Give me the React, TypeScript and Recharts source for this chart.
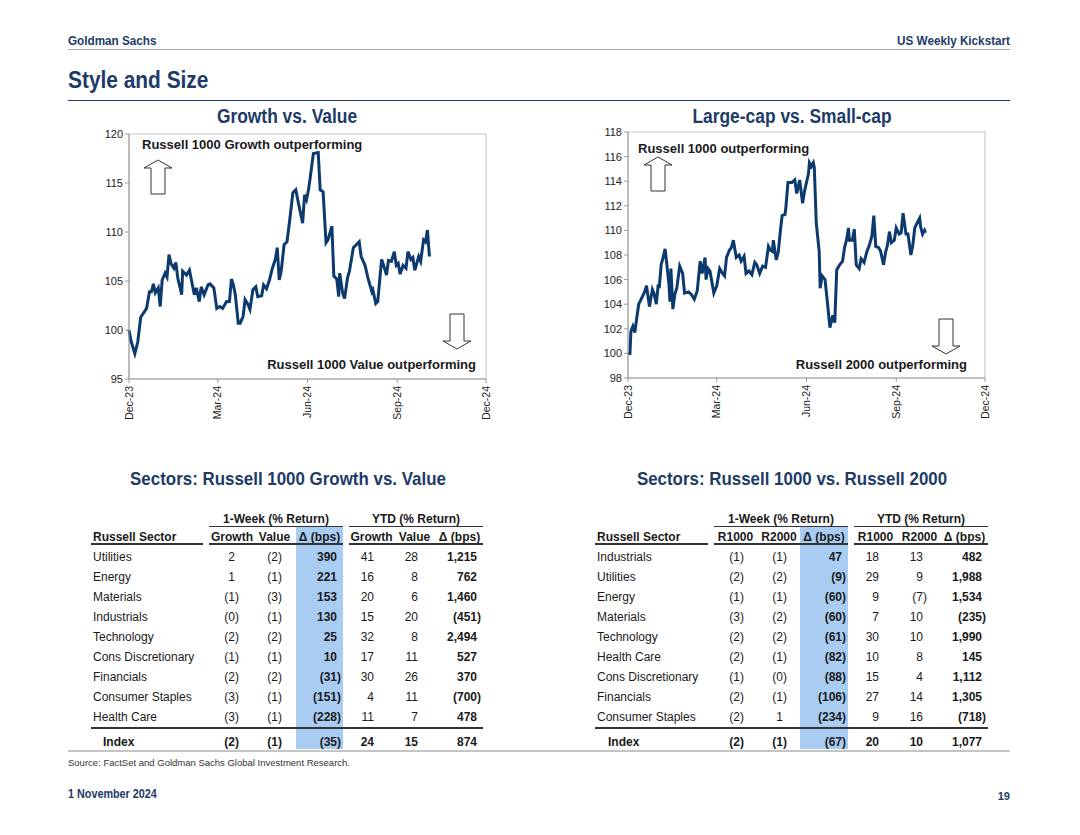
import React from "react";
import { LineChart, Line, XAxis, YAxis, ReferenceArea } from "recharts";

const NAVY = "#1d3b66";
const LINE = "#0d3a6e";
const FONT = "'Liberation Sans', Arial, sans-serif";

// day offsets from 29-Dec-2023 (rebased to 100)
const gvDays = [
  0, 2, 6, 9, 12, 16, 18, 21, 23, 25, 27, 30, 32, 34, 37, 39, 41, 43, 46, 48,
  50, 54, 55, 59, 62, 65, 67, 69, 72, 74, 77, 81, 83, 87, 90, 93, 96, 100, 103, 105,
  107, 109, 112, 114, 117, 119, 122, 124, 127, 130, 132, 136, 138, 141, 144, 147, 150, 152, 154, 156,
  159, 162, 165, 168, 171, 174, 178, 180, 182, 184, 186, 189, 194, 196, 199, 202, 204, 208, 210, 213,
  215, 216, 219, 221, 224, 226, 230, 233, 236, 238, 242, 245, 249, 250, 253, 255, 259, 261, 264, 266,
  269, 272, 274, 276, 278, 281, 284, 286, 289, 291, 293, 297, 299, 302, 304, 306, 308,
];
const gvValues = [
  100.0, 98.9, 97.6, 98.8, 101.3, 101.9, 102.2, 103.9, 103.9, 104.7,
  103.8, 104.3, 102.4, 105.1, 105.8, 105.4, 107.7, 106.8, 106.3, 106.9,
  105.3, 103.6, 106.0, 105.6, 106.1, 104.6, 103.6, 104.3, 102.9, 104.4,
  103.6, 104.6, 104.7, 104.3, 102.2, 102.4, 102.2, 102.9, 102.9, 105.2,
  104.6, 103.6, 100.7, 100.7, 101.4, 103.1, 102.6, 102.1, 104.1, 104.4,
  103.4, 103.5, 104.6, 104.2, 105.1, 106.3, 107.2, 108.4, 105.1, 106.0,
  108.7, 109.0, 111.4, 114.0, 114.3, 112.8, 110.9, 113.8, 113.3, 114.3,
  115.7, 118.0, 118.1, 114.3, 114.1, 108.9, 109.2, 110.6, 105.5, 105.2,
  103.4, 105.8, 103.8, 103.2, 105.3, 106.0, 108.4, 108.7, 109.0, 107.5,
  106.6, 105.3, 103.9, 104.1, 102.7, 102.9, 107.2, 106.6, 105.6, 107.1,
  107.0, 108.0, 106.6, 106.8, 105.7, 106.6, 106.3, 108.0, 107.2, 107.4,
  106.1, 107.5, 107.0, 109.2, 109.0, 110.2, 107.5,
];

const lsDays = [
  0, 2, 3, 5, 7, 9, 11, 14, 17, 19, 22, 25, 27, 29, 31, 32, 34, 36, 38, 40,
  42, 43, 44, 46, 48, 50, 53, 56, 58, 62, 65, 68, 71, 73, 74, 76, 79, 80, 82, 84,
  88, 91, 94, 97, 99, 101, 104, 106, 108, 111, 114, 116, 119, 121, 124, 127, 130, 132, 135, 138,
  141, 144, 146, 148, 149, 152, 154, 156, 158, 161, 162, 164, 168, 171, 173, 176, 179, 181, 185, 186,
  188, 190, 191, 193, 196, 197, 199, 202, 204, 207, 210, 212, 214, 217, 220, 222, 224, 226, 227, 230,
  232, 234, 237, 239, 242, 245, 247, 250, 252, 254, 257, 259, 262, 264, 266, 268, 270, 273, 275, 278,
  280, 282, 285, 287, 290, 292, 294, 297, 299, 300, 302, 304, 305,
];
const lsValues = [
  100.0, 100.0, 101.8, 102.2, 101.7, 102.9, 104.0, 104.5, 105.0, 105.5,
  103.8, 105.2, 104.8, 104.0, 105.6, 105.3, 107.2, 107.8, 108.5, 107.1,
  105.6, 104.2, 106.9, 103.6, 104.8, 105.3, 107.1, 106.5, 104.9, 105.0,
  104.8, 104.4, 105.1, 106.7, 107.5, 106.5, 107.8, 106.0, 106.9, 106.7,
  104.9, 105.5, 106.9, 106.5, 106.3, 107.8, 108.4, 108.6, 109.2, 107.8,
  108.0, 107.5, 107.9, 106.5, 106.7, 106.4, 107.4, 107.2, 106.5, 107.1,
  107.0, 108.7, 108.4, 108.3, 109.2, 107.6, 108.2, 109.8, 111.2, 111.3,
  112.0, 113.9, 113.9, 114.1, 113.0, 114.1, 112.2, 113.2, 114.6, 115.5,
  115.2, 115.5, 115.1, 110.6, 108.3, 105.3, 106.3, 106.0, 104.5, 102.1,
  103.1, 102.5, 106.8, 107.2, 107.5, 108.6, 109.2, 110.2, 109.2, 109.2,
  110.1, 107.2, 106.9, 107.7, 107.4, 108.3, 108.7, 109.5, 111.2, 108.7,
  108.6, 108.3, 107.2, 108.2, 108.8, 109.9, 109.0, 109.2, 110.2, 109.7,
  109.8, 111.4, 109.7, 109.7, 108.0, 108.8, 110.2, 110.7, 111.0, 110.3,
  109.7, 110.0, 109.8,
];

const dateTicks = [0, 91, 183, 275, 366];
const dateLabels = ["Dec-23", "Mar-24", "Jun-24", "Sep-24", "Dec-24"];
const gvTicks = [95, 100, 105, 110, 115, 120];
const lsTicks = [98, 100, 102, 104, 106, 108, 110, 112, 114, 116, 118];

// table 1: Russell 1000 Growth vs. Value
const sectors1 = ["Utilities", "Energy", "Materials", "Industrials", "Technology", "Cons Discretionary", "Financials", "Consumer Staples", "Health Care"];
const growth1w = [2, 1, -1, -0, -2, -1, -2, -3, -3];
const value1w = [-2, -1, -3, -1, -2, -1, -2, -1, -1];
const gvDelta1w = [390, 221, 153, 130, 25, 10, -31, -151, -228];
const growthYtd = [41, 16, 20, 15, 32, 17, 30, 4, 11];
const valueYtd = [28, 8, 6, 20, 8, 11, 26, 11, 7];
const gvDeltaYtd = [1215, 762, 1460, -451, 2494, 527, 370, -700, 478];
const gvIndex = [-2, -1, -35, 24, 15, 874];

// table 2: Russell 1000 vs. Russell 2000
const sectors2 = ["Industrials", "Utilities", "Energy", "Materials", "Technology", "Health Care", "Cons Discretionary", "Financials", "Consumer Staples"];
const r1000w = [-1, -2, -1, -3, -2, -2, -1, -2, -2];
const r2000w = [-1, -2, -1, -2, -2, -1, -0, -1, 1];
const lsDelta1w = [47, -9, -60, -60, -61, -82, -88, -106, -234];
const r1000ytd = [18, 29, 9, 7, 30, 10, 15, 27, 9];
const r2000ytd = [13, 9, -7, 10, 10, 8, 4, 14, 16];
const lsDeltaYtd = [482, 1988, 1534, -235, 1990, 145, 1112, 1305, -718];
const lsIndex = [-2, -1, -67, 20, 10, 1077];

function fmt(v: number) {
  const neg = v < 0 || Object.is(v, -0);
  const s = Math.abs(v).toLocaleString("en-US");
  return neg ? (
    <span>({s})</span>
  ) : (
    <span>
      {s}
      <span style={{ visibility: "hidden" }}>)</span>
    </span>
  );
}

// absolutely placed text; y is the vertical centre, sx squeezes headings
function Txt({ x, y, size, bold, color, align, children, w = 400, sx }: any) {
  let left = x;
  if (align === "center") left = x - w / 2;
  if (align === "right") left = x - w;
  return (
    <div
      style={{
        position: "absolute",
        left,
        top: y - size / 2,
        width: w,
        fontSize: size,
        lineHeight: `${size}px`,
        fontWeight: bold ? 700 : 400,
        color: color || "#1a1a1a",
        textAlign: align || "left",
        whiteSpace: "nowrap",
        fontFamily: FONT,
        transform: sx ? `scaleX(${sx})` : undefined,
        transformOrigin: align === "center" ? "center" : align === "right" ? "right" : "left",
      }}
    >
      {children}
    </div>
  );
}

function HLine({ x1, x2, y, h = 1, color = "#333" }: any) {
  return <div style={{ position: "absolute", left: x1, top: y - h / 2, width: x2 - x1, height: h, background: color }} />;
}

const DateTick = (props: any) => {
  const { x, y, payload } = props;
  const label = dateLabels[dateTicks.indexOf(payload.value)];
  return (
    <text
      x={x}
      y={y + 1}
      transform={`rotate(-90 ${x} ${y + 1})`}
      textAnchor="end"
      dy="0.35em"
      fontSize={10.5}
      fill="#222"
      fontFamily={FONT}
    >
      {label}
    </text>
  );
};

function Arrow({ x, y, up }: any) {
  const d = up
    ? "M1 9 L15 1 L29 9 L22 9 L22 35 L8 35 L8 9 Z"
    : "M8 1 L22 1 L22 28 L29 28 L15 36 L1 28 L8 28 Z";
  return (
    <svg style={{ position: "absolute", left: x, top: y }} width={31} height={38}>
      <path d={d} fill="#fff" stroke="#333" strokeWidth={1} />
    </svg>
  );
}

function RelChart({ days, values, ticks, left, top, mLeft, mRight, mBottom }: any) {
  const data = days.map((d: number, i: number) => ({ day: d, v: values[i] }));
  const lo = ticks[0];
  const hi = ticks[ticks.length - 1];
  return (
    <div style={{ position: "absolute", left, top }}>
      <LineChart width={440} height={310} data={data} margin={{ top: 14, right: mRight, bottom: mBottom, left: mLeft }}>
        <ReferenceArea x1={0} x2={366} y1={lo} y2={hi} fill="none" stroke="#c8c8c8" strokeWidth={1.2} />
        <XAxis
          type="number"
          dataKey="day"
          domain={[0, 366]}
          ticks={dateTicks}
          interval={0}
          tick={<DateTick />}
          tickSize={4}
          height={45}
          axisLine={{ stroke: "#9a9a9a" }}
          tickLine={{ stroke: "#9a9a9a" }}
        />
        <YAxis
          domain={[lo, hi]}
          ticks={ticks}
          interval={0}
          width={40}
          tickSize={4}
          tick={{ fontSize: 11, fill: "#222", fontFamily: FONT }}
          axisLine={{ stroke: "#9a9a9a" }}
          tickLine={{ stroke: "#9a9a9a" }}
        />
        <Line type="linear" dataKey="v" stroke={LINE} strokeWidth={3} dot={false} isAnimationActive={false} />
      </LineChart>
    </div>
  );
}

function SectorTable({ title, titleCx, sx, sectorEnd, g1, g2, rights, heads, headCx, groups, blue, sectors, cols, index, indexX }: any) {
  const rowY = (i: number) => 557 + 20 * i;
  return (
    <>
      <Txt x={titleCx} y={478} size={19} bold color={NAVY} align="center" w={500} sx={0.89}>
        {title}
      </Txt>
      <div style={{ position: "absolute", left: blue[0], top: 527, width: blue[1] - blue[0], height: 222, background: "#a9ccf2" }} />
      <Txt x={(g1[0] + g1[1]) / 2} y={519} size={12} bold align="center" w={200}>
        {groups[0]}
      </Txt>
      <Txt x={(g2[0] + g2[1]) / 2} y={519} size={12} bold align="center" w={200}>
        {groups[1]}
      </Txt>
      <HLine x1={g1[0]} x2={g1[1]} y={526.5} h={1.5} />
      <HLine x1={g2[0]} x2={g2[1]} y={526.5} h={1.5} />
      <Txt x={sx + 2} y={537} size={12} bold>
        Russell Sector
      </Txt>
      {heads.map((h: string, i: number) => (
        <Txt key={i} x={headCx[i]} y={537} size={12} bold align="center" w={80}>
          {h}
        </Txt>
      ))}
      <HLine x1={sx} x2={sectorEnd} y={544} h={1.5} />
      <HLine x1={g1[0]} x2={g1[1]} y={544} h={1.5} />
      <HLine x1={g2[0]} x2={g2[1]} y={544} h={1.5} />
      {sectors.map((s: string, r: number) => (
        <React.Fragment key={s}>
          <Txt x={sx + 2} y={rowY(r)} size={12}>
            {s}
          </Txt>
          {cols.map((c: number[], k: number) => (
            <Txt key={k} x={rights[k]} y={rowY(r)} size={12} bold={k === 2 || k === 5} align="right" w={80}>
              {fmt(c[r])}
            </Txt>
          ))}
        </React.Fragment>
      ))}
      <HLine x1={sx} x2={g2[1]} y={728} h={2} />
      <Txt x={indexX} y={742} size={12} bold>
        Index
      </Txt>
      {index.map((v: number, k: number) => (
        <Txt key={k} x={rights[k]} y={742} size={12} bold align="right" w={80}>
          {fmt(v)}
        </Txt>
      ))}
    </>
  );
}

export default function App() {
  return (
    <div style={{ position: "absolute", left: 0, top: 0, width: 1080, height: 835, background: "#fff", fontFamily: FONT, overflow: "hidden" }}>
      <Txt x={68} y={40} size={13} bold color={NAVY} sx={0.9}>
        Goldman Sachs
      </Txt>
      <Txt x={1010} y={40} size={13} bold color={NAVY} align="right" sx={0.9}>
        US Weekly Kickstart
      </Txt>
      <HLine x1={68} x2={1010} y={49.5} h={1.5} color="#a6a6a6" />
      <Txt x={68} y={80} size={24} bold color={NAVY} sx={0.87}>
        Style and Size
      </Txt>
      <HLine x1={68} x2={1010} y={100.5} h={1.5} color={NAVY} />

      <Txt x={287} y={116} size={20} bold color={NAVY} align="center" sx={0.87}>
        Growth vs. Value
      </Txt>
      <Txt x={792} y={116} size={20} bold color={NAVY} align="center" sx={0.87}>
        Large-cap vs. Small-cap
      </Txt>

      <RelChart days={gvDays} values={gvValues} ticks={gvTicks} left={60} top={120} mLeft={29} mRight={14} mBottom={6} />
      <RelChart days={lsDays} values={lsValues} ticks={lsTicks} left={560} top={118} mLeft={28} mRight={15} mBottom={5} />

      <Txt x={142} y={144} size={13} bold>
        Russell 1000 Growth outperforming
      </Txt>
      <Txt x={476} y={364} size={13} bold align="right">
        Russell 1000 Value outperforming
      </Txt>
      <Txt x={638} y={148} size={13} bold>
        Russell 1000 outperforming
      </Txt>
      <Txt x={967} y={364} size={13} bold align="right">
        Russell 2000 outperforming
      </Txt>
      <Arrow x={143} y={159} up />
      <Arrow x={442} y={313} />
      <Arrow x={643} y={156} up />
      <Arrow x={931} y={318} />

      <SectorTable
        title="Sectors: Russell 1000 Growth vs. Value"
        titleCx={288}
        sx={91}
        sectorEnd={203}
        g1={[209, 343]}
        g2={[349, 483]}
        rights={[239, 282, 341, 378, 422, 481]}
        heads={["Growth", "Value", "\u0394 (bps)", "Growth", "Value", "\u0394 (bps)"]}
        headCx={[232, 274.5, 319.5, 371.5, 414.5, 459.5]}
        groups={["1-Week (% Return)", "YTD (% Return)"]}
        blue={[296, 343]}
        sectors={sectors1}
        cols={[growth1w, value1w, gvDelta1w, growthYtd, valueYtd, gvDeltaYtd]}
        index={gvIndex}
        indexX={103}
      />
      <SectorTable
        title="Sectors: Russell 1000 vs. Russell 2000"
        titleCx={792}
        sx={595}
        sectorEnd={708}
        g1={[714, 848]}
        g2={[854, 988]}
        rights={[744, 787, 846, 883, 927, 986]}
        heads={["R1000", "R2000", "\u0394 (bps)", "R1000", "R2000", "\u0394 (bps)"]}
        headCx={[735.5, 779, 824, 875.5, 919.5, 964.5]}
        groups={["1-Week (% Return)", "YTD (% Return)"]}
        blue={[800, 848]}
        sectors={sectors2}
        cols={[r1000w, r2000w, lsDelta1w, r1000ytd, r2000ytd, lsDeltaYtd]}
        index={lsIndex}
        indexX={608}
      />

      <HLine x1={68} x2={1010} y={751} h={1.5} color="#c4c4c4" />
      <Txt x={68} y={763} size={9.5} color="#333">
        Source: FactSet and Goldman Sachs Global Investment Research.
      </Txt>
      <Txt x={68} y={794} size={12} bold color={NAVY} sx={0.9}>
        1 November 2024
      </Txt>
      <Txt x={1010} y={796} size={11} bold color={NAVY} align="right">
        19
      </Txt>
    </div>
  );
}
